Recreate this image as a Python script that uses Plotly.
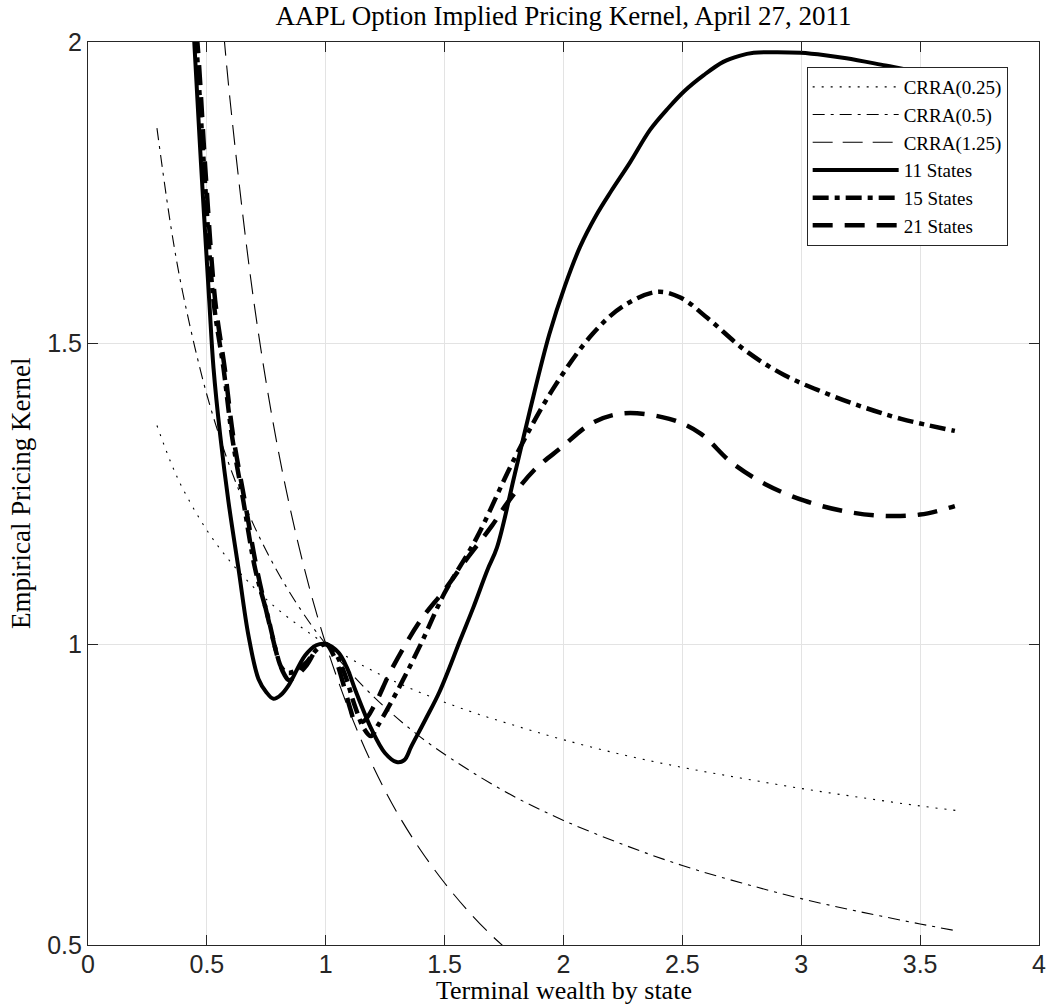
import plotly.graph_objects as go

# ---- data ----
crra_x = [0.29, 0.35, 0.40, 0.50, 0.60, 0.70, 0.80, 0.90, 1.00, 1.20, 1.40, 1.60, 1.80,
          2.00, 2.25, 2.50, 2.75, 3.00, 3.25, 3.50, 3.66]
crra025_y = [1.363, 1.300, 1.257, 1.189, 1.136, 1.093, 1.057, 1.027, 1.000, 0.955, 0.919,
             0.889, 0.864, 0.841, 0.816, 0.795, 0.777, 0.760, 0.745, 0.731, 0.723]
crra05_y = [1.857, 1.690, 1.581, 1.414, 1.291, 1.195, 1.118, 1.054, 1.000, 0.913, 0.845,
            0.791, 0.745, 0.707, 0.667, 0.632, 0.603, 0.577, 0.555, 0.535, 0.523]
crra125_x = [0.55, 0.60, 0.70, 0.80, 0.90, 1.00, 1.10, 1.20, 1.30, 1.40, 1.50, 1.60, 1.70, 1.80]
crra125_y = [2.110, 1.894, 1.562, 1.322, 1.141, 1.000, 0.888, 0.796, 0.720, 0.657, 0.603,
             0.556, 0.515, 0.480]

s11_x = [0.43, 0.447, 0.475, 0.51, 0.528, 0.556, 0.591, 0.633, 0.675, 0.717, 0.75, 0.78,
         0.81, 0.843, 0.913, 0.96, 1.0, 1.053, 1.09, 1.123, 1.193, 1.249, 1.298, 1.33,
         1.36, 1.42, 1.48, 1.566, 1.62, 1.68, 1.72, 1.795, 1.86, 1.94, 2.006, 2.07, 2.136,
         2.2, 2.28, 2.364, 2.44, 2.51, 2.59, 2.672, 2.74, 2.80, 2.90, 2.997, 3.10, 3.19,
         3.354, 3.50, 3.66]
s11_y = [2.12, 2.0, 1.80, 1.57, 1.458, 1.347, 1.236, 1.125, 1.014, 0.942, 0.92, 0.909,
         0.915, 0.931, 0.981, 0.998, 1.0, 0.986, 0.96, 0.925, 0.858, 0.819, 0.804, 0.807,
         0.83, 0.875, 0.922, 1.007, 1.06, 1.123, 1.16, 1.282, 1.39, 1.514, 1.595, 1.66,
         1.711, 1.752, 1.80, 1.854, 1.89, 1.919, 1.945, 1.967, 1.977, 1.982, 1.983, 1.982,
         1.978, 1.973, 1.961, 1.95, 1.935]

s15_x = [0.43, 0.455, 0.49, 0.528, 0.57, 0.605, 0.654, 0.703, 0.759, 0.79, 0.815, 0.84,
         0.87, 0.92, 0.96, 1.0, 1.04, 1.08, 1.12, 1.16, 1.19, 1.22, 1.305, 1.40, 1.5,
         1.633, 1.795, 1.958, 2.12, 2.25, 2.396, 2.494, 2.607, 2.77, 2.932, 3.094, 3.257,
         3.42, 3.646]
s15_y = [2.12, 2.0, 1.78, 1.57, 1.458, 1.347, 1.236, 1.125, 1.042, 0.99, 0.96, 0.952,
         0.955, 0.97, 0.99, 1.0, 0.985, 0.95, 0.9, 0.86, 0.847, 0.865, 0.925, 1.0, 1.085,
         1.175, 1.309, 1.425, 1.514, 1.561, 1.585, 1.575, 1.541, 1.486, 1.446, 1.418,
         1.394, 1.374, 1.354]

s21_x = [0.43, 0.46, 0.495, 0.535, 0.575, 0.61, 0.66, 0.71, 0.765, 0.80, 0.825, 0.845,
         0.87, 0.92, 0.96, 1.0, 1.04, 1.08, 1.105, 1.125, 1.16, 1.207, 1.277, 1.4, 1.5,
         1.6, 1.7, 1.763, 1.877, 1.99, 2.12, 2.25, 2.445, 2.575, 2.705, 2.851, 3.013,
         3.175, 3.338, 3.5, 3.646]
s21_y = [2.12, 2.0, 1.78, 1.57, 1.458, 1.347, 1.236, 1.125, 1.03, 0.975, 0.95, 0.94,
         0.945, 0.965, 0.99, 1.0, 0.975, 0.925, 0.89, 0.87, 0.872, 0.9, 0.958, 1.04, 1.09,
         1.145, 1.197, 1.234, 1.289, 1.326, 1.367, 1.383, 1.374, 1.35, 1.302, 1.265,
         1.238, 1.221, 1.213, 1.215, 1.229]

x_ticks = [0, 0.5, 1, 1.5, 2, 2.5, 3, 3.5, 4]
x_tick_labels = ["0", "0.5", "1", "1.5", "2", "2.5", "3", "3.5", "4"]
y_ticks = [0.5, 1, 1.5, 2]
y_tick_labels = ["0.5", "1", "1.5", "2"]

SERIF = "Liberation Serif"
SANS = "Liberation Sans"

fig = go.Figure()

def add(name, x, y, width, dash):
    fig.add_trace(go.Scatter(
        x=x, y=y, name=name, mode="lines",
        line=dict(color="black", width=width, dash=dash, shape="spline", smoothing=1.0),
    ))

add("CRRA(0.25)", crra_x, crra025_y, 1.1, "2px,7px")
add("CRRA(0.5)", crra_x, crra05_y, 1.1, "12px,6px,3px,6px")
add("CRRA(1.25)", crra125_x, crra125_y, 1.1, "20px,10px")
add("11 States", s11_x, s11_y, 4.0, "solid")
add("15 States", s15_x, s15_y, 4.5, "16px,6px,5px,6px")
add("21 States", s21_x, s21_y, 4.5, "20px,12px")

axis_common = dict(
    showgrid=True, gridcolor="#e3e3e3", gridwidth=1,
    showline=True, linecolor="#262626", linewidth=1.2, mirror="ticks",
    ticks="inside", ticklen=10, tickwidth=1.2, tickcolor="#262626",
    zeroline=False, ticklabeloverflow="allow",
    tickfont=dict(family=SANS, size=25, color="#262626"),
)

fig.update_xaxes(range=[0, 4], tickvals=x_ticks, ticktext=x_tick_labels,
                 ticklabelstandoff=-3, **axis_common)
fig.update_yaxes(range=[0.5, 2], tickvals=y_ticks, ticktext=y_tick_labels, **axis_common)

fig.update_layout(
    width=1053, height=1005,
    margin=dict(l=88, r=7, t=42, b=60),
    paper_bgcolor="white", plot_bgcolor="white",
    title=dict(text="AAPL Option Implied Pricing Kernel, April 27, 2011",
               x=0.5, xref="paper", xanchor="center",
               y=1 - 16 / 1005, yref="container", yanchor="middle",
               font=dict(family=SERIF, size=27, color="black")),
    legend=dict(x=0.7557, y=0.9723, xanchor="left", yanchor="top",
                bgcolor="white", bordercolor="#262626", borderwidth=1,
                font=dict(family=SERIF, size=19, color="black"),
                itemwidth=86, tracegroupgap=0),
    showlegend=True,
    annotations=[
        dict(text="Terminal wealth by state", xref="paper", yref="paper",
             x=0.5, y=-(1006 - 945) / 903, xanchor="center", yanchor="bottom",
             showarrow=False, borderpad=0,
             font=dict(family=SERIF, size=26, color="black")),
        dict(text="Empirical Pricing Kernel", xref="paper", yref="paper",
             x=-0.071, y=0.5, xanchor="center", yanchor="middle", showarrow=False,
             textangle=-90, font=dict(family=SERIF, size=27, color="black")),
    ],
)

fig.write_html("out.html")
